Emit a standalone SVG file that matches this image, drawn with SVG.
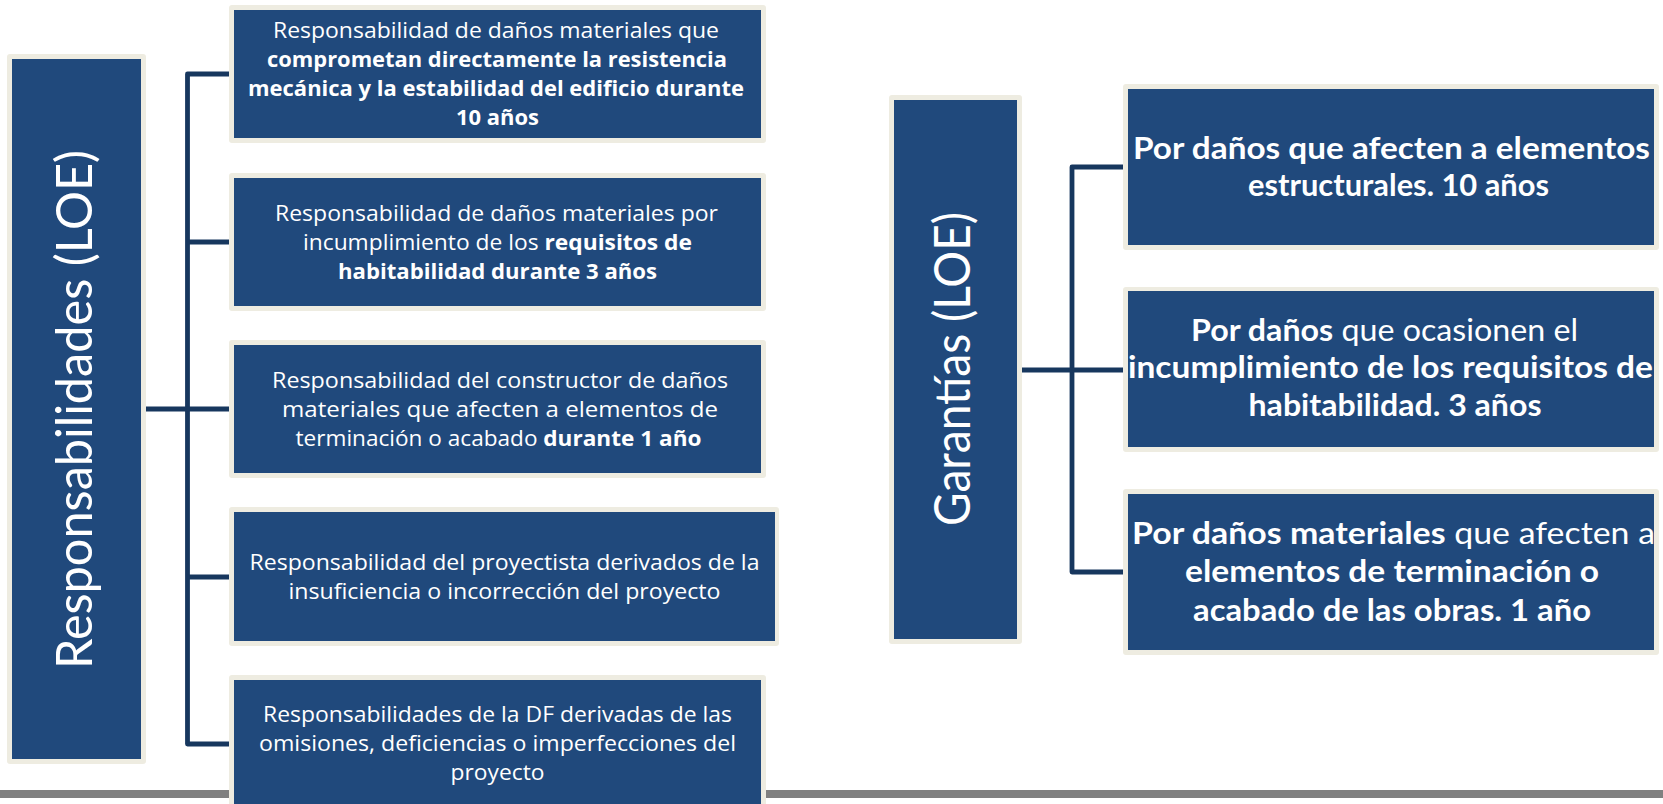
<svg xmlns="http://www.w3.org/2000/svg" width="1663" height="804" viewBox="0 0 1663 804">
<style>
.cream{fill:#EEECE1}
.blue{fill:#20497C}
.t{font-family:'Open Sans','Liberation Sans',sans-serif;font-size:22px;fill:#ffffff;text-anchor:middle}
.b{font-weight:bold}
.r{font-family:Lato,'Open Sans','Liberation Sans',sans-serif;font-size:30px;fill:#ffffff;text-anchor:middle;font-weight:bold}
.rn{font-weight:normal}
.side{font-family:Lato,'Open Sans','Liberation Sans',sans-serif;font-size:50px;font-weight:normal;fill:#ffffff;text-anchor:middle}
.conn{fill:none;stroke:#17375E;stroke-width:4.8;stroke-linejoin:round;stroke-linecap:butt}
</style>
<rect x="0" y="0" width="1663" height="804" fill="#ffffff"/>
<rect id="bottom-bar" x="0" y="790" width="1663" height="8" fill="#808080"/>

<g id="connectors">
  <path class="conn" d="M229,74 H187.5 V744 H229"/>
  <path class="conn" d="M187.5,242 H229"/>
  <path class="conn" d="M146,409 H229"/>
  <path class="conn" d="M187.5,577 H229"/>
  <path class="conn" d="M1123,167 H1072 V572 H1123"/>
  <path class="conn" d="M1022,370 H1123"/>
</g>

<g id="responsabilidades">
  <rect class="cream" x="7" y="54" width="139" height="710" rx="3"/>
  <rect class="blue" x="12" y="59" width="129" height="700"/>
  <text class="side" transform="translate(92,409.5) rotate(-90)" textLength="519" lengthAdjust="spacingAndGlyphs">Responsabilidades (LOE)</text>
</g>

<g id="resp-1">
  <rect class="cream" x="229" y="5" width="537" height="138" rx="3"/>
  <rect class="blue" x="234" y="10" width="527" height="128"/>
  <text class="t" x="496" y="37.5" textLength="446" lengthAdjust="spacingAndGlyphs">Responsabilidad de daños materiales que</text>
  <text class="t b" x="497" y="66.5" textLength="460" lengthAdjust="spacingAndGlyphs">comprometan directamente la resistencia</text>
  <text class="t b" x="496" y="95.5" textLength="496" lengthAdjust="spacingAndGlyphs">mecánica y la estabilidad del edificio durante</text>
  <text class="t b" x="497.5" y="125" textLength="83" lengthAdjust="spacingAndGlyphs">10 años</text>
</g>

<g id="resp-2">
  <rect class="cream" x="229" y="173" width="537" height="138" rx="3"/>
  <rect class="blue" x="234" y="178" width="527" height="128"/>
  <text class="t" x="496.5" y="220.5" textLength="443" lengthAdjust="spacingAndGlyphs">Responsabilidad de daños materiales por</text>
  <text class="t" x="497.5" y="249.5" textLength="389" lengthAdjust="spacingAndGlyphs">incumplimiento de los <tspan class="b">requisitos de</tspan></text>
  <text class="t b" x="497.5" y="278.5" textLength="319" lengthAdjust="spacingAndGlyphs">habitabilidad durante 3 años</text>
</g>

<g id="resp-3">
  <rect class="cream" x="229" y="340" width="537" height="138" rx="3"/>
  <rect class="blue" x="234" y="345" width="527" height="128"/>
  <text class="t" x="500" y="387.5" textLength="456" lengthAdjust="spacingAndGlyphs">Responsabilidad del constructor de daños</text>
  <text class="t" x="500" y="416.5" textLength="436" lengthAdjust="spacingAndGlyphs">materiales que afecten a elementos de</text>
  <text class="t" x="498.5" y="445.5" textLength="406" lengthAdjust="spacingAndGlyphs">terminación o acabado <tspan class="b">durante 1 año</tspan></text>
</g>

<g id="resp-4">
  <rect class="cream" x="229" y="507" width="550" height="139" rx="3"/>
  <rect class="blue" x="234" y="512" width="541" height="129"/>
  <text class="t" x="504.5" y="569.5" textLength="510" lengthAdjust="spacingAndGlyphs">Responsabilidad del proyectista derivados de la</text>
  <text class="t" x="504.5" y="598.5" textLength="432" lengthAdjust="spacingAndGlyphs">insuficiencia o incorrección del proyecto</text>
</g>

<g id="resp-5">
  <rect class="cream" x="229" y="675" width="537" height="145" rx="3"/>
  <rect class="blue" x="234" y="680" width="527" height="135"/>
  <text class="t" x="497.5" y="722" textLength="469" lengthAdjust="spacingAndGlyphs">Responsabilidades de la DF derivadas de las</text>
  <text class="t" x="497.5" y="751" textLength="477" lengthAdjust="spacingAndGlyphs">omisiones, deficiencias o imperfecciones del</text>
  <text class="t" x="497.5" y="780" textLength="94" lengthAdjust="spacingAndGlyphs">proyecto</text>
</g>

<g id="garantias">
  <rect class="cream" x="889" y="95" width="133" height="549" rx="3"/>
  <rect class="blue" x="894" y="100" width="123" height="539"/>
  <text class="side" transform="translate(970,369) rotate(-90)" textLength="314" lengthAdjust="spacingAndGlyphs">Garantías (LOE)</text>
</g>

<g id="gar-1">
  <rect class="cream" x="1123" y="84" width="536" height="166" rx="3"/>
  <rect class="blue" x="1128" y="89" width="526" height="156"/>
  <text class="r" x="1391.5" y="158.5" textLength="517" lengthAdjust="spacingAndGlyphs">Por daños que afecten a elementos</text>
  <text class="r" x="1398.5" y="195.5" textLength="301" lengthAdjust="spacingAndGlyphs">estructurales. 10 años</text>
</g>

<g id="gar-2">
  <rect class="cream" x="1123" y="287" width="536" height="165" rx="3"/>
  <rect class="blue" x="1128" y="291" width="526" height="156"/>
  <text class="r" x="1384.5" y="341" textLength="387" lengthAdjust="spacingAndGlyphs">Por daños<tspan class="rn"> que ocasionen el</tspan></text>
  <text class="r" x="1390.5" y="378" textLength="525" lengthAdjust="spacingAndGlyphs">incumplimiento de los requisitos de</text>
  <text class="r" x="1395" y="416" textLength="293" lengthAdjust="spacingAndGlyphs">habitabilidad. 3 años</text>
</g>

<g id="gar-3">
  <rect class="cream" x="1123" y="489" width="536" height="166" rx="3"/>
  <rect class="blue" x="1128" y="494" width="526" height="156"/>
  <text class="r" x="1393.5" y="543.5" textLength="523" lengthAdjust="spacingAndGlyphs">Por daños materiales<tspan class="rn"> que afecten a</tspan></text>
  <text class="r" x="1392" y="582" textLength="414" lengthAdjust="spacingAndGlyphs">elementos de terminación o</text>
  <text class="r" x="1392" y="620.5" textLength="398" lengthAdjust="spacingAndGlyphs">acabado de las obras. 1 año</text>
</g>
</svg>
